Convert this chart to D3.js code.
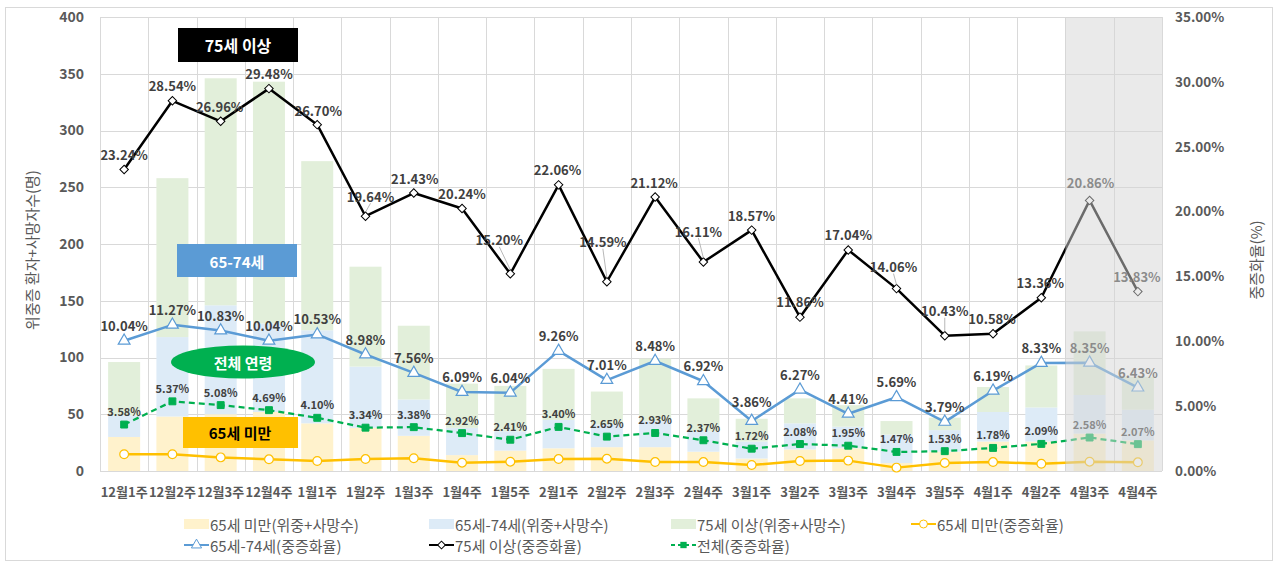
<!DOCTYPE html>
<html><head><meta charset="utf-8">
<script src="https://cdn.jsdelivr.net/npm/d3@7"></script>
<style>
body{margin:0;background:#fff;}
text{font-family:"Malgun Gothic","Noto Sans CJK KR","Noto Sans",sans-serif;}
</style>
</head><body>
<svg id="c" width="1278" height="565"></svg>
<script>
// ---------- DATA ----------
const categories = ["12월1주","12월2주","12월3주","12월4주","1월1주","1월2주","1월3주","1월4주","1월5주","2월1주","2월2주","2월3주","2월4주","3월1주","3월2주","3월3주","3월4주","3월5주","4월1주","4월2주","4월3주","4월4주"];
const under65Count = [30,48,50,52,42,38,31,14,18,20,21,21,17,11,19,20,7,17,26,26,33,27];
const age6574Count = [19,70,96,78,82,54,32,24,17,25,20,23,18,15,23,19,25,19,26,30,34,27];
const over75Count  = [47,140,200,213,149,88,65,39,40,45,29,55,29,20,22,19,12,11,22,37,56,29];
const under65Rate = [1.29,1.29,1.05,0.90,0.77,0.92,0.98,0.64,0.72,0.92,0.95,0.69,0.69,0.46,0.77,0.80,0.26,0.62,0.69,0.56,0.72,0.67];
const age6574Rate = [10.04,11.27,10.83,10.04,10.53,8.98,7.56,6.09,6.04,9.26,7.01,8.48,6.92,3.86,6.27,4.41,5.69,3.79,6.19,8.33,8.35,6.43];
const over75Rate  = [23.24,28.54,26.96,29.48,26.70,19.64,21.43,20.24,15.20,22.06,14.59,21.12,16.11,18.57,11.86,17.04,14.06,10.43,10.58,13.36,20.86,13.83];
const totalRate   = [3.58,5.37,5.08,4.69,4.10,3.34,3.38,2.92,2.41,3.40,2.65,2.93,2.37,1.72,2.08,1.95,1.47,1.53,1.78,2.09,2.58,2.07];
const leftTicks  = [0,50,100,150,200,250,300,350,400];
const rightTicks = [0,5,10,15,20,25,30,35];
const shadedCats = ["4월3주","4월4주"];
const seriesNames = {
  u65bar:"65세 미만(위중+사망수)", a6574bar:"65세-74세(위중+사망수)", o75bar:"75세 이상(위중+사망수)",
  u65line:"65세 미만(중증화율)", a6574line:"65세-74세(중증화율)", o75line:"75세 이상(중증화율)", totline:"전체(중증화율)"
};
// label nudges for the 75+ rate labels (dx, dy from point)
const o75Nudge = [[0,-15],[0,-15],[-1,-15],[0,-15],[1,-14],[5,-20],[1,-15],[0,-15],[-11,-34],[-1,-15],[-4,-40],[-1,-15],[-5,-31],[0,-15],[0,-16],[0,-15],[-3,-22],[0,-25],[-1,-15],[-1,-15],[1,-18],[-1,-15]];

// ---------- LAYOUT ----------
const svg = d3.select("#c");
const L = 100, R = 1162, T = 17, B = 471;
const x = d3.scaleBand().domain(categories).range([L, R]).padding(0);
const bw = x.bandwidth();
const cx = c => x(c) + bw/2;
const y = d3.scaleLinear().domain([0,400]).range([B, T]);
const yR = d3.scaleLinear().domain([0,35]).range([B, T]);

const C = {
  grid:"#D9D9D9", axisText:"#595959", label:"#404040",
  yellowBar:"#FFF2CC", blueBar:"#DDEBF7", greenBar:"#E2EFDA",
  gold:"#FFC000", blue:"#5B9BD5", black:"#000000", green:"#00B050"
};

// outer border
svg.append("rect").attr("x",5.5).attr("y",7.5).attr("width",1267).attr("height",553)
  .attr("fill","none").attr("stroke","#D9D9D9");

// gridlines
const g = svg.append("g");
g.selectAll("line.h").data(leftTicks).join("line")
  .attr("x1",L).attr("x2",R).attr("y1",d=>Math.round(y(d))+0.5).attr("y2",d=>Math.round(y(d))+0.5)
  .attr("stroke",C.grid);
const bounds = categories.map(c=>x(c)).concat([R]);
g.selectAll("line.v").data(bounds).join("line")
  .attr("x1",d=>Math.round(d)+0.5).attr("x2",d=>Math.round(d)+0.5).attr("y1",T).attr("y2",B)
  .attr("stroke",C.grid);

// axes
const ax = svg.append("g").attr("transform",`translate(${L},0)`)
  .call(d3.axisLeft(y).tickValues(leftTicks).tickSize(0).tickPadding(16));
const axR = svg.append("g").attr("transform",`translate(${R},0)`)
  .call(d3.axisRight(yR).tickValues(rightTicks).tickSize(0).tickPadding(13).tickFormat(d=>d.toFixed(2)+"%"));
const axB = svg.append("g").attr("transform",`translate(0,${B})`)
  .call(d3.axisBottom(x).tickSize(0).tickPadding(17));
[ax,axR,axB].forEach(a=>{ a.select(".domain").remove();
  a.selectAll("text").attr("fill",C.axisText).style("font-weight","bold")
   .style("font-family",'"Malgun Gothic","Noto Sans CJK KR",sans-serif'); });
ax.selectAll("text").style("font-size","14px");
axR.selectAll("text").style("font-size","13.5px");
axB.selectAll("text").style("font-size","13px");

// axis titles
svg.append("text").attr("transform","translate(31,250) rotate(-90)").attr("text-anchor","middle")
  .attr("dominant-baseline","central").attr("fill",C.axisText).style("font-size","15px").text("위중증 환자+사망자수(명)");
svg.append("text").attr("transform","translate(1255,260) rotate(-90)").attr("text-anchor","middle")
  .attr("dominant-baseline","central").attr("fill",C.axisText).style("font-size","15px").text("중증화율(%)");

// stacked bars
const table = categories.map((c,i)=>({cat:c, u65:under65Count[i], a6574:age6574Count[i], o75:over75Count[i]}));
const stack = d3.stack().keys(["u65","a6574","o75"])(table);
const barColors = {u65:C.yellowBar, a6574:C.blueBar, o75:C.greenBar};
const barW = bw*0.663;
svg.append("g").selectAll("g").data(stack).join("g").attr("fill",d=>barColors[d.key])
  .selectAll("rect").data(d=>d).join("rect")
  .attr("x",d=>cx(d.data.cat)-barW/2).attr("width",barW)
  .attr("y",d=>y(d[1])).attr("height",d=>y(d[0])-y(d[1]));

// lines
const lineGen = d3.line().x(d=>cx(d.c)).y(d=>yR(d.v));
const mk = arr => categories.map((c,i)=>({c, v:arr[i], i}));
const lines = svg.append("g");
function drawLine(arr,color,width,dash){
  lines.append("path").datum(mk(arr)).attr("d",lineGen).attr("fill","none")
    .attr("stroke",color).attr("stroke-width",width).attr("stroke-dasharray",dash||null)
    .attr("stroke-linejoin","round");
}
drawLine(under65Rate,C.gold,2.5);
drawLine(totalRate,C.green,2.25,"6,4");
drawLine(age6574Rate,C.blue,2.5);
drawLine(over75Rate,C.black,2.5);

const sym = (type,size)=>d3.symbol().type(type).size(size)();
function markers(arr,type,size,fill,stroke,sw){
  lines.append("g").selectAll("path").data(mk(arr)).join("path")
    .attr("transform",d=>`translate(${cx(d.c)},${yR(d.v)})`)
    .attr("d",sym(type,size)).attr("fill",fill).attr("stroke",stroke).attr("stroke-width",sw);
}
markers(under65Rate,d3.symbolCircle,60,"#fff",C.gold,1.2);
markers(totalRate,d3.symbolSquare,48,C.green,C.green,1);
markers(age6574Rate,d3.symbolTriangle,60,"#fff",C.blue,1.2);
// diamonds
lines.append("g").selectAll("path").data(mk(over75Rate)).join("path")
  .attr("transform",d=>`translate(${cx(d.c)},${yR(d.v)}) rotate(45)`)
  .attr("d",sym(d3.symbolSquare,36)).attr("fill","#fff").attr("stroke","#000").attr("stroke-width",1);

// data labels
const fmt = v=>v.toFixed(2)+"%";
const labs = svg.append("g");
labs.selectAll("line.ld").data(mk(over75Rate).filter(d=>o75Nudge[d.i][1]<-18)).join("line")
  .attr("x1",d=>cx(d.c)+o75Nudge[d.i][0]).attr("y1",d=>yR(d.v)+o75Nudge[d.i][1]+7)
  .attr("x2",d=>cx(d.c)).attr("y2",d=>yR(d.v)-4).attr("stroke","#A6A6A6").attr("stroke-width",0.8);
labs.selectAll("text.o75").data(mk(over75Rate)).join("text")
  .attr("x",d=>cx(d.c)+o75Nudge[d.i][0]).attr("y",d=>yR(d.v)+o75Nudge[d.i][1])
  .attr("text-anchor","middle").attr("dominant-baseline","central")
  .attr("fill",C.label).style("font-size","13px").style("font-weight","bold").text(d=>fmt(d.v));
labs.selectAll("text.a").data(mk(age6574Rate)).join("text")
  .attr("x",d=>cx(d.c)).attr("y",d=>yR(d.v)-(d.i===13?19:15.5))
  .attr("text-anchor","middle").attr("dominant-baseline","central")
  .attr("fill",C.label).style("font-size","13px").style("font-weight","bold").text(d=>fmt(d.v));
labs.selectAll("text.t").data(mk(totalRate)).join("text")
  .attr("x",d=>cx(d.c)).attr("y",d=>yR(d.v)-13.5)
  .attr("text-anchor","middle").attr("dominant-baseline","central")
  .attr("fill",C.label).style("font-size","11px").style("font-weight","bold").text(d=>fmt(d.v));

// shaded overlay for last weeks
const sx0 = x(shadedCats[0]), sx1 = x(shadedCats[shadedCats.length-1])+bw;
svg.append("rect").attr("x",sx0).attr("y",T).attr("width",sx1-sx0).attr("height",B-T)
  .attr("fill","#D6D6D6").attr("opacity",0.5);

// annotation boxes
const ann = svg.append("g");
function boxText(xc,yc,t,color,size){
  ann.append("text").attr("x",xc).attr("y",yc).attr("text-anchor","middle").attr("dominant-baseline","central")
    .attr("fill",color).style("font-size",size+"px").style("font-weight","bold").text(t);
}
ann.append("rect").attr("x",178).attr("y",28).attr("width",120).attr("height",34).attr("fill","#000");
boxText(238,45,"75세 이상","#fff",16);
ann.append("rect").attr("x",177).attr("y",244).attr("width",120).attr("height",33).attr("fill","#5B9BD5");
boxText(237,261,"65-74세","#fff",15);
ann.append("ellipse").attr("cx",243).attr("cy",362).attr("rx",72).attr("ry",16.5).attr("fill","#00B050");
boxText(243,362,"전체 연령","#fff",15);
ann.append("rect").attr("x",183).attr("y",417).attr("width",115).attr("height",31).attr("fill","#FFC000");
boxText(240,432,"65세 미만","#000",15);

// legend
const leg = svg.append("g");
const legItems = [
  {k:"u65bar", x:184, y:524, type:"bar", color:C.yellowBar},
  {k:"a6574bar", x:429, y:524, type:"bar", color:C.blueBar},
  {k:"o75bar", x:671, y:524, type:"bar", color:C.greenBar},
  {k:"u65line", x:911, y:524, type:"line", color:C.gold, m:"circle"},
  {k:"a6574line", x:184, y:545, type:"line", color:C.blue, m:"tri"},
  {k:"o75line", x:429, y:545, type:"line", color:"#000", m:"dia"},
  {k:"totline", x:671, y:545, type:"line", color:C.green, m:"sq"}
];
legItems.forEach(it=>{
  const gg = leg.append("g").attr("transform",`translate(${it.x},${it.y})`);
  if(it.type==="bar"){
    gg.append("rect").attr("x",0).attr("y",-5).attr("width",25).attr("height",10).attr("fill",it.color);
  } else {
    gg.append("line").attr("x1",0).attr("x2",25).attr("y1",0).attr("y2",0).attr("stroke",it.color)
      .attr("stroke-width",2).attr("stroke-dasharray",it.m==="sq"?"4,3":null);
    let p;
    if(it.m==="circle") p = gg.append("path").attr("d",sym(d3.symbolCircle,50)).attr("fill","#fff").attr("stroke",it.color);
    if(it.m==="tri") p = gg.append("path").attr("d",sym(d3.symbolTriangle,45)).attr("fill","#fff").attr("stroke",it.color);
    if(it.m==="dia") p = gg.append("path").attr("d",sym(d3.symbolSquare,30)).attr("fill","#fff").attr("stroke","#000");
    if(it.m==="sq") p = gg.append("path").attr("d",sym(d3.symbolSquare,40)).attr("fill",it.color);
    p.attr("transform", it.m==="dia" ? "translate(12.5,0) rotate(45)" : "translate(12.5,0)");
  }
  gg.append("text").attr("x",26).attr("y",0).attr("dominant-baseline","central")
    .attr("fill",C.axisText).style("font-size","15px").text(seriesNames[it.k]);
});
</script>
</body></html>
